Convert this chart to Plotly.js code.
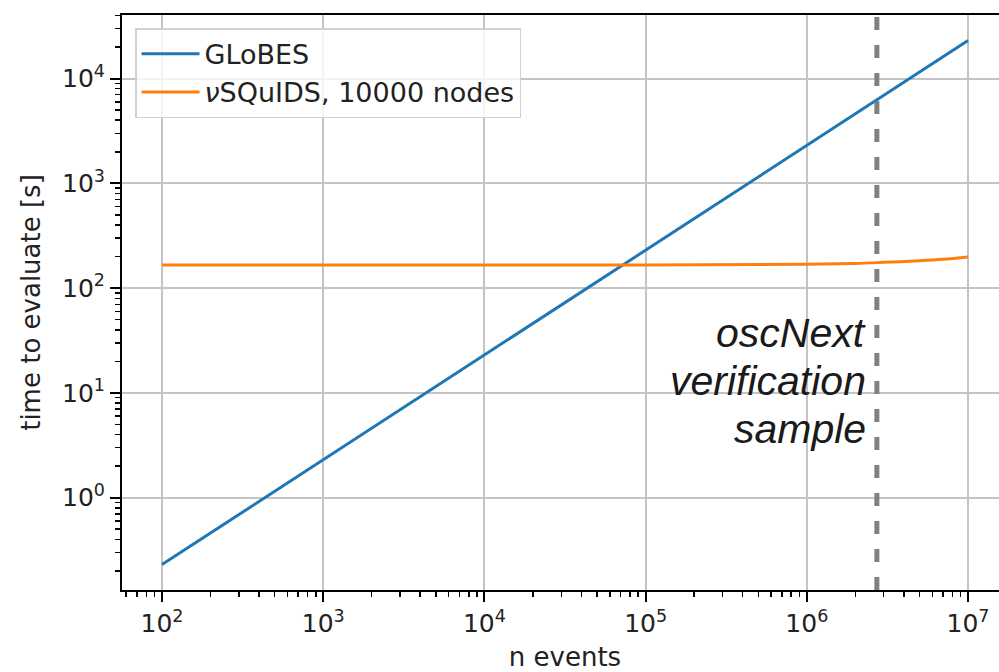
<!DOCTYPE html>
<html>
<head>
<meta charset="utf-8">
<script src="https://cdn.plot.ly/plotly-3.0.1.min.js"></script>
<style>
html, body { margin: 0; padding: 0; overflow: hidden; background: #fff; }
#chart { width: 1012px; height: 672px; }
</style>
</head>
<body>
<div id="chart"></div>
<script>
// ---- data ----
var globesEvents = [1e2, 1e3, 1e4, 1e5, 1e6, 1e7];
var globesTime   = [0.23, 2.3, 23, 230, 2300, 23000];

var squidsEvents = [1e2, 1e3, 1e4, 1e5, 1e6, 2e6, 3e6, 5e6, 7e6, 1e7];
var squidsTime   = [166, 166, 166, 166.3, 169, 172, 176, 182, 188, 198];

var sampleEvents = 2.72e6;   // oscNext verification sample size

var xTickVals = [1e2, 1e3, 1e4, 1e5, 1e6, 1e7];
var xTickText = ['10<sup>2</sup>', '10<sup>3</sup>', '10<sup>4</sup>', '10<sup>5</sup>', '10<sup>6</sup>', '10<sup>7</sup>'];
var yTickVals = [1e0, 1e1, 1e2, 1e3, 1e4];
var yTickText = ['10<sup>0</sup>', '10<sup>1</sup>', '10<sup>2</sup>', '10<sup>3</sup>', '10<sup>4</sup>'];

var seriesNames = ['GLoBES', '<i>\u03bd</i>SQuIDS, 10000 nodes'];
var sampleLabel = ['oscNext', 'verification', 'sample'];

// ---- chart ----
var FONT = 'DejaVu Sans, sans-serif';
var traces = [
  { x: globesEvents, y: globesTime, type: 'scatter', mode: 'lines', name: seriesNames[0],
    line: { color: '#1f77b4', width: 3 } },
  { x: squidsEvents, y: squidsTime, type: 'scatter', mode: 'lines', name: seriesNames[1],
    line: { color: '#ff7f0e', width: 3, shape: 'spline' } }
];

var labelY = [1.572, 1.114, 0.656];
var annotations = sampleLabel.map(function (t, i) {
  return { text: '<i>' + t + '</i>', xref: 'x', yref: 'y', x: 6.382, y: labelY[i],
    xanchor: 'right', yanchor: 'middle', showarrow: false,
    font: { family: 'Liberation Sans, Arial, sans-serif', size: 41, color: '#1a1a1a' } };
});

var axisCommon = {
  type: 'log', showline: true, mirror: true, linecolor: '#000', linewidth: 2,
  showgrid: true, gridcolor: '#c4c4c4', gridwidth: 2, zeroline: false,
  ticks: 'outside', ticklen: 10, tickwidth: 2, tickcolor: '#000',
  tickmode: 'array',
  tickfont: { family: FONT, size: 25, color: '#222' },
  minor: { tickmode: 'linear', dtick: 'D1', ticks: 'outside', ticklen: 5, tickwidth: 1.5, tickcolor: '#000', showgrid: false }
};

var layout = {
  width: 1012, height: 672,
  margin: { l: 122, r: 4, t: 15, b: 82 },
  paper_bgcolor: '#fff', plot_bgcolor: '#fff',
  font: { family: FONT, color: '#222' },
  showlegend: true,
  legend: { x: 0.0147, y: 0.977, xanchor: 'left', yanchor: 'top',
    bgcolor: 'rgba(255,255,255,0.8)', bordercolor: '#d0d0d0', borderwidth: 1.5,
    itemwidth: 58,
    font: { family: FONT, size: 27, color: '#222' } },
  xaxis: Object.assign({}, axisCommon, {
    range: [1.752, 7.248], tickvals: xTickVals, ticktext: xTickText,
    title: { text: 'n events', font: { family: FONT, size: 26, color: '#222' }, standoff: 14 }
  }),
  yaxis: Object.assign({}, axisCommon, {
    range: [-0.881, 4.606], tickvals: yTickVals, ticktext: yTickText,
    title: { text: 'time to evaluate [s]', font: { family: FONT, size: 26, color: '#222' }, standoff: 14 }
  }),
  shapes: [{ type: 'line', xref: 'x', yref: 'paper', x0: sampleEvents, x1: sampleEvents, y0: 0, y1: 1,
    line: { color: '#808080', width: 5, dash: '13px,15px' } }],
  annotations: annotations
};

Plotly.newPlot('chart', traces, layout, { displayModeBar: false, staticPlot: true });
</script>
</body>
</html>
